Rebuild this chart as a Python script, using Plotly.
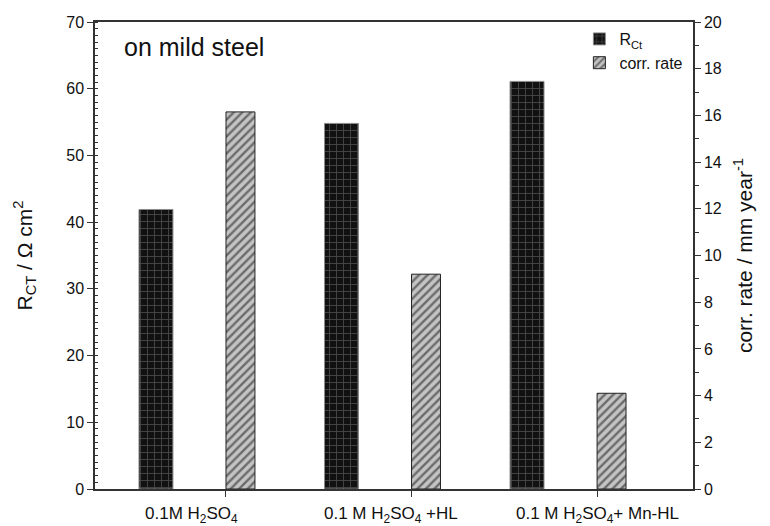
import plotly.graph_objects as go

categories = ["c1", "c2", "c3"]
category_labels = [
    "0.1M H<sub>2</sub>SO<sub>4</sub>",
    "0.1 M H<sub>2</sub>SO<sub>4</sub> +HL",
    "0.1 M H<sub>2</sub>SO<sub>4</sub>+ Mn-HL",
]
rct_values = [41.9, 54.8, 61.1]
corr_rate_values = [16.15, 9.2, 4.1]

FONT = "Liberation Sans, Arial, sans-serif"

fig = go.Figure()
fig.add_trace(go.Bar(
    x=categories, y=rct_values, name="R<sub>Ct</sub>",
    offset=-0.469, width=0.183, yaxis="y",
    marker=dict(color="#111111",
                line=dict(color="#8a8a8a", width=1),
                pattern=dict(shape="+", fgcolor="#7a7a7a", bgcolor="#111111",
                             size=7, solidity=0.25, fillmode="overlay")),
))
fig.add_trace(go.Bar(
    x=categories, y=corr_rate_values, name="corr. rate",
    offset=0.0, width=0.156, yaxis="y2",
    marker=dict(color="#c4c4c4",
                line=dict(color="#222222", width=1),
                pattern=dict(shape="/", fgcolor="#111111", bgcolor="#c4c4c4",
                             size=6, solidity=0.4, fillmode="overlay")),
))

label_shifts = [-34, -21, 0]
for i, (lab, sh) in enumerate(zip(category_labels, label_shifts)):
    fig.add_annotation(x=i, y=0, xref="x", yref="paper", text=lab,
                       showarrow=False, yanchor="top", xshift=sh, yshift=-13,
                       font=dict(family=FONT, size=17, color="#111"))

fig.add_annotation(x=0.045, y=0.98, xref="paper", yref="paper",
                   text="on mild steel", showarrow=False,
                   xanchor="left", yanchor="top",
                   font=dict(family=FONT, size=25, color="#111"))

fig.update_layout(
    width=770, height=526,
    margin=dict(l=95, r=77, t=22, b=37),
    paper_bgcolor="white", plot_bgcolor="white",
    barmode="overlay",
    font=dict(family=FONT, size=16, color="#111"),
    showlegend=True,
    legend=dict(x=0.81, y=1.0, xanchor="left", yanchor="top",
                bgcolor="rgba(0,0,0,0)", font=dict(size=16),
                tracegroupgap=0),
    xaxis=dict(range=[-0.706, 2.517], showticklabels=False,
               ticks="outside", ticklen=6, tickcolor="#333",
               showline=True, linecolor="#333", linewidth=1.5, mirror=True,
               showgrid=False, zeroline=False),
    yaxis=dict(range=[0, 70], dtick=10, ticks="outside", ticklen=6,
               tickcolor="#333", showline=True, linecolor="#333", linewidth=1.5,
               showgrid=False, zeroline=False,
               minor=dict(dtick=1, ticks="inside", ticklen=3, tickcolor="#333"),
               title=dict(text="R<sub>CT</sub> / Ω cm<sup>2</sup>",
                          font=dict(size=21), standoff=28)),
    yaxis2=dict(range=[0, 20], dtick=2, overlaying="y", side="right",
                ticks="outside", ticklen=6, tickcolor="#333",
                showline=True, linecolor="#333", linewidth=1.5,
                showgrid=False, zeroline=False,
                minor=dict(dtick=1, ticks="outside", ticklen=4, tickcolor="#333"),
                title=dict(text="corr. rate / mm year<sup>-1</sup>",
                           font=dict(size=21), standoff=16)),
)

fig.write_html("out.html")
